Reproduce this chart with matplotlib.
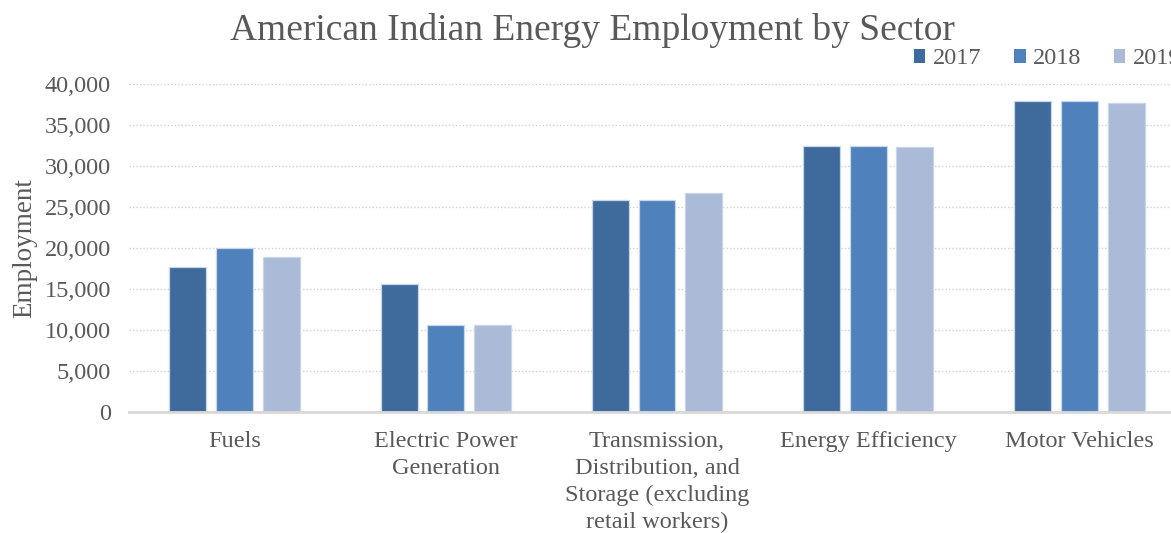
import matplotlib
matplotlib.use("Agg")
import matplotlib.pyplot as plt
from matplotlib.ticker import FuncFormatter, MultipleLocator
import numpy as np

categories = ["Fuels", "Electric Power\nGeneration",
              "Transmission,\nDistribution, and\nStorage (excluding\nretail workers)",
              "Energy Efficiency", "Motor Vehicles"]
years = ["2017", "2018", "2019"]
emp_2017 = [17730, 15570, 25900, 32490, 37970]
emp_2018 = [19950, 10610, 25900, 32490, 37970]
emp_2019 = [18870, 10570, 26670, 32280, 37730]
series = [emp_2017, emp_2018, emp_2019]
colors = ["#3F6A9C", "#4F81BD", "#AABAD7"]

plt.rcParams["font.family"] = ["Liberation Serif", "DejaVu Serif"]
text_color = "#595959"

fig = plt.figure(figsize=(11.71, 5.33), dpi=100)
W, H = 1171, 533
left_px, right_px, top_px, bottom_px = 129, 1185, 84, 412
ax = fig.add_axes([left_px / W, 1 - bottom_px / H,
                   (right_px - left_px) / W, (bottom_px - top_px) / H])

x = np.arange(len(categories))
bar_w = 0.175
pitch = 0.221
for i, (vals, col, yr) in enumerate(zip(series, colors, years)):
    ax.bar(x + (i - 1) * pitch, vals, width=bar_w, color=col,
           edgecolor="#C9D6EA", linewidth=0.9, label=yr, zorder=3)

ax.set_xlim(-0.5, len(categories) - 0.5)
ax.set_ylim(0, 40000)
ax.yaxis.set_major_locator(MultipleLocator(5000))
ax.yaxis.set_major_formatter(FuncFormatter(lambda v, p: f"{int(v):,}"))
ax.grid(axis="y", color="#D0D0D0", linestyle=(0, (1, 1.5)), linewidth=1.0, zorder=0)
ax.set_axisbelow(True)

for s in ["top", "right", "left"]:
    ax.spines[s].set_visible(False)
ax.spines["bottom"].set_color("#D9D9D9")
ax.spines["bottom"].set_linewidth(2)
ax.spines["bottom"].set_zorder(4)

ax.set_xticks(x)
ax.set_xticklabels(categories, linespacing=1.35)
ax.tick_params(axis="both", length=0, labelsize=17.5, labelcolor=text_color)
ax.tick_params(axis="x", pad=14)
ax.tick_params(axis="y", pad=13)

ax.set_ylabel("Employment", fontsize=19.5, color=text_color, labelpad=5)

fig.text(592 / W, 1 - 31 / H, "American Indian Energy Employment by Sector",
         ha="center", va="center", fontsize=27, color=text_color)

leg = ax.legend(ncol=3, loc="center left", bbox_to_anchor=(914 / W, 1 - 59 / H),
                bbox_transform=fig.transFigure, frameon=False, fontsize=17.5,
                handlelength=0.47, handleheight=0.47, handletextpad=0.3,
                columnspacing=1.35, labelcolor=text_color, borderaxespad=0,
                borderpad=0)
for h in leg.legend_handles:
    h.set_edgecolor("none")

fig.savefig("out.png", dpi=100)
